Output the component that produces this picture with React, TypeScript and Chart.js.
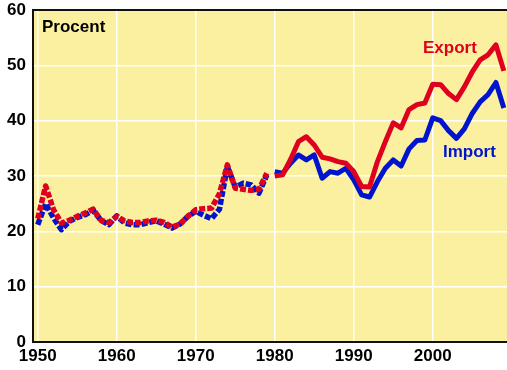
import React, { useEffect, useRef } from "react";
import { Chart, registerables } from "chart.js";

Chart.register(...registerables);

const yearsEarly = [1950, 1951, 1952, 1953, 1954, 1955, 1956, 1957, 1958, 1959, 1960, 1961, 1962, 1963, 1964, 1965, 1966, 1967, 1968, 1969, 1970, 1971, 1972, 1973, 1974, 1975, 1976, 1977, 1978, 1979];
const yearsLate = [1980, 1981, 1982, 1983, 1984, 1985, 1986, 1987, 1988, 1989, 1990, 1991, 1992, 1993, 1994, 1995, 1996, 1997, 1998, 1999, 2000, 2001, 2002, 2003, 2004, 2005, 2006, 2007, 2008, 2009];

const exportEarly = [22.3, 28.2, 23.9, 21.5, 22.0, 22.7, 23.3, 24.0, 22.0, 21.6, 22.7, 21.9, 21.6, 21.6, 21.9, 22.0, 21.6, 20.8, 21.3, 22.7, 23.9, 24.1, 24.2, 26.8, 32.0, 27.8, 27.6, 27.4, 27.6, 30.5];
const importEarly = [21.2, 25.0, 22.4, 20.3, 21.8, 22.5, 23.0, 23.8, 22.0, 21.2, 22.8, 21.5, 21.2, 21.2, 21.6, 21.9, 21.3, 20.6, 21.3, 22.7, 23.6, 22.9, 22.3, 24.0, 31.7, 28.0, 28.7, 28.4, 26.9, 30.2];
const exportLate = [30.0, 30.2, 33.0, 36.2, 37.1, 35.6, 33.4, 33.1, 32.6, 32.3, 30.8, 28.1, 28.0, 32.6, 36.2, 39.6, 38.7, 42.0, 42.9, 43.2, 46.6, 46.5, 44.9, 43.8, 46.1, 48.8, 51.0, 51.9, 53.7, 49.0];
const importLate = [30.8, 30.5, 32.3, 33.8, 32.9, 33.8, 29.6, 30.8, 30.5, 31.4, 29.3, 26.6, 26.2, 29.0, 31.4, 32.9, 31.8, 34.9, 36.4, 36.5, 40.5, 40.0, 38.2, 36.8, 38.5, 41.3, 43.4, 44.7, 46.9, 42.3];

const xTicks = [1950, 1960, 1970, 1980, 1990, 2000];
const yTicks = [0, 10, 20, 30, 40, 50, 60];

const RED = "rgb(222,0,30)";
const BLUE = "rgb(0,20,205)";
const BG = "rgb(250,240,160)";
const FONT = 'Arial, "Liberation Sans", sans-serif';

const pts = (xs: number[], ys: number[]) => xs.map((x, i) => ({ x, y: ys[i] }));

export default function App() {
  const ref = useRef<HTMLCanvasElement | null>(null);
  useEffect(() => {
    document.body.style.margin = "0";
    const canvas = ref.current!;
    const bgPlugin = {
      id: "bg",
      beforeDraw(chart: any) {
        const { ctx, chartArea: a } = chart;
        ctx.save();
        ctx.fillStyle = BG;
        ctx.fillRect(a.left, a.top, a.right - a.left, a.bottom - a.top);
        ctx.restore();
      },
      afterDraw(chart: any) {
        const { ctx, chartArea: a } = chart;
        ctx.save();
        ctx.strokeStyle = "#111";
        ctx.lineWidth = 2;
        ctx.beginPath();
        ctx.moveTo(a.left, a.top);
        ctx.lineTo(a.right, a.top);
        ctx.stroke();
        ctx.font = "bold 17px " + FONT;
        ctx.textAlign = "left";
        ctx.textBaseline = "alphabetic";
        ctx.fillStyle = "#000";
        ctx.fillText("Procent", a.left + 9, a.top + 22);
        ctx.fillStyle = RED;
        ctx.fillText("Export", 423, 53);
        ctx.fillStyle = BLUE;
        ctx.fillText("Import", 443, 157);
        ctx.restore();
      },
    };
    const common = { fill: false, pointRadius: 0, tension: 0, borderWidth: 5, borderJoinStyle: "round" as const };
    const chart = new Chart(canvas, {
      type: "line",
      data: {
        datasets: [
          { ...common, data: pts(yearsEarly, exportEarly), borderColor: RED, borderDash: [6, 2], borderWidth: 5.5 },
          { ...common, data: pts(yearsLate, exportLate), borderColor: RED },
          { ...common, data: pts(yearsEarly, importEarly), borderColor: BLUE, borderDash: [6, 2], borderWidth: 5.5 },
          { ...common, data: pts(yearsLate, importLate), borderColor: BLUE },
        ],
      },
      options: {
        animation: false,
        responsive: false,
        layout: { padding: { top: 10, right: 0, left: 0, bottom: 0 } },
        plugins: { legend: { display: false }, tooltip: { enabled: false } },
        scales: {
          x: {
            type: "linear",
            min: 1949.4,
            max: 2009.4,
            afterBuildTicks: (s: any) => { s.ticks = xTicks.map((v) => ({ value: v })); },
            afterFit: (s: any) => { s.height = 28; s.paddingLeft = 0; s.paddingRight = 0; },
            grid: { color: "#fff", lineWidth: 1.5, drawTicks: false },
            border: { display: true, color: "#111", width: 2 },
            ticks: { color: "#000", font: { family: FONT, size: 17, weight: "bold" }, padding: 4, maxRotation: 0, autoSkip: false, callback: (v: any) => String(v) },
          },
          y: {
            type: "linear",
            min: 0,
            max: 60,
            afterBuildTicks: (s: any) => { s.ticks = yTicks.map((v) => ({ value: v })); },
            afterFit: (s: any) => { s.width = 33; s.paddingTop = 0; s.paddingBottom = 0; },
            grid: { color: "#fff", lineWidth: 1.5, drawTicks: false },
            border: { display: true, color: "#111", width: 2 },
            ticks: { color: "#000", font: { family: FONT, size: 17, weight: "bold" }, padding: 7, callback: (v: any) => String(v) },
          },
        },
      },
      plugins: [bgPlugin],
    });
    return () => chart.destroy();
  }, []);
  return (
    <div style={{ position: "fixed", left: 0, top: 0, width: 507, height: 370, background: "#fff" }}>
      <canvas ref={ref} width={507} height={370} style={{ width: 507, height: 370, display: "block" }} />
    </div>
  );
}
